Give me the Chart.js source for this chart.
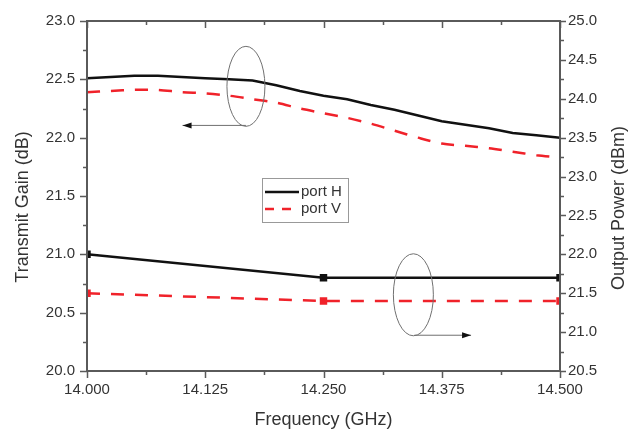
<!DOCTYPE html>
<html>
<head>
<meta charset="utf-8">
<title>Transmit Gain / Output Power</title>
<script src="https://cdn.jsdelivr.net/npm/chart.js@4.4.1/dist/chart.umd.min.js"></script>
<style>
  html, body { margin: 0; padding: 0; background: #fff; }
  canvas { display: block; }
</style>
</head>
<body>
<canvas id="gainChart" width="631" height="429"></canvas>
<script>
// measured transmit gain (left axis, dB)
const freqGain = [14.000, 14.025, 14.050, 14.075, 14.100, 14.125, 14.150, 14.175, 14.200, 14.225,
                  14.250, 14.275, 14.300, 14.325, 14.350, 14.375, 14.400, 14.425, 14.450, 14.475, 14.500];
const gainPortH = [22.51, 22.52, 22.53, 22.53, 22.52, 22.51, 22.50, 22.49, 22.45, 22.40,
                   22.36, 22.33, 22.28, 22.24, 22.19, 22.14, 22.11, 22.08, 22.04, 22.02, 22.00];
const gainPortV = [22.39, 22.40, 22.41, 22.41, 22.39, 22.38, 22.36, 22.33, 22.30, 22.25,
                   22.21, 22.17, 22.12, 22.06, 22.00, 21.95, 21.93, 21.91, 21.88, 21.85, 21.83];

// output power (right axis, dBm)
const freqPower = [14.000, 14.250, 14.500];
const powerPortH = [22.0, 21.7, 21.7];
const powerPortV = [21.5, 21.4, 21.4];

// tick labels
const xTicks = [14.000, 14.125, 14.250, 14.375, 14.500];
const gainTicks = [20.0, 20.5, 21.0, 21.5, 22.0, 22.5, 23.0];
const powerTicks = [20.5, 21.0, 21.5, 22.0, 22.5, 23.0, 23.5, 24.0, 24.5, 25.0];

const FONT = "'Liberation Sans', Arial, sans-serif";
const TEXT_COLOR = '#333';
const FRAME_COLOR = '#5a5a5a';
const BLACK = '#111';
const RED = '#f0222a';
const DASH = [13, 11];

// ellipse + arrow callouts telling which curves belong to which axis
const callouts = [
    { axis: 'yGain', cx: 14.168, cy: 22.44, rx: 19, ry: 40, from: [14.168, 22.105], to: [14.101, 22.105] },
    { axis: 'yPower', cx: 14.345, cy: 21.48, rx: 20, ry: 41, from: [14.346, 20.96], to: [14.406, 20.96] },
];

function pts(xs, ys) {
    return xs.map((x, i) => ({ x, y: ys[i] }));
}

// major ticks plus a minor tick half way between each pair
function withMinor(list) {
    const out = [];
    list.forEach((v, i) => {
        out.push({ v, major: true });
        if (i < list.length - 1) out.push({ v: (v + list[i + 1]) / 2, major: false });
    });
    return out;
}

const axisFrame = {
    id: 'axisFrame',
    afterDatasetsDraw(chart) {
        const { ctx, chartArea: a, scales } = chart;
        const x = scales.x, yl = scales.yGain, yr = scales.yPower;
        ctx.save();

        // frame
        ctx.strokeStyle = FRAME_COLOR;
        ctx.lineWidth = 2;
        ctx.strokeRect(a.left, a.top, a.right - a.left, a.bottom - a.top);

        // tick marks
        ctx.lineWidth = 1.5;
        ctx.beginPath();
        withMinor(xTicks).forEach(t => {
            const px = Math.round(x.getPixelForValue(t.v)) + 0.5;
            const len = t.major ? 7 : 4;
            ctx.moveTo(px, a.bottom); ctx.lineTo(px, a.bottom + len);
            ctx.moveTo(px, a.top); ctx.lineTo(px, a.top + len);
        });
        withMinor(gainTicks).forEach(t => {
            const py = Math.round(yl.getPixelForValue(t.v)) + 0.5;
            ctx.moveTo(a.left, py); ctx.lineTo(a.left - (t.major ? 7 : 4), py);
        });
        withMinor(powerTicks).forEach(t => {
            const py = Math.round(yr.getPixelForValue(t.v)) + 0.5;
            ctx.moveTo(a.right, py); ctx.lineTo(a.right + (t.major ? 6 : 4), py);
        });
        ctx.stroke();

        // callouts
        callouts.forEach(c => {
            const ys = scales[c.axis];
            const cx = x.getPixelForValue(c.cx), cy = ys.getPixelForValue(c.cy);
            ctx.strokeStyle = '#707070';
            ctx.lineWidth = 1;
            ctx.beginPath();
            ctx.ellipse(cx, cy, c.rx, c.ry, 0, 0, Math.PI * 2);
            ctx.stroke();
            const x0 = x.getPixelForValue(c.from[0]), y0 = ys.getPixelForValue(c.from[1]);
            const x1 = x.getPixelForValue(c.to[0]), y1 = ys.getPixelForValue(c.to[1]);
            ctx.beginPath();
            ctx.moveTo(x0, y0); ctx.lineTo(x1, y1);
            ctx.stroke();
            const dir = Math.sign(x1 - x0);
            ctx.fillStyle = '#111';
            ctx.beginPath();
            ctx.moveTo(x1, y1);
            ctx.lineTo(x1 - dir * 9, y1 - 3);
            ctx.lineTo(x1 - dir * 9, y1 + 3);
            ctx.closePath();
            ctx.fill();
        });

        // legend
        const lg = { left: 262, top: 178, w: 86, h: 44 };
        ctx.fillStyle = '#fff';
        ctx.fillRect(lg.left, lg.top, lg.w, lg.h);
        ctx.strokeStyle = '#999';
        ctx.lineWidth = 1;
        ctx.strokeRect(lg.left + 0.5, lg.top + 0.5, lg.w, lg.h);
        ctx.font = '15px ' + FONT;
        ctx.textBaseline = 'middle';
        ctx.textAlign = 'left';
        [0, 1].forEach(i => {
            const ds = chart.data.datasets[i];
            const yy = lg.top + 14 + i * 17;
            ctx.strokeStyle = ds.borderColor;
            ctx.lineWidth = ds.borderWidth;
            ctx.setLineDash(ds.borderDash ? [9, 8] : []);
            ctx.beginPath();
            ctx.moveTo(lg.left + 3, yy); ctx.lineTo(lg.left + 37, yy);
            ctx.stroke();
            ctx.setLineDash([]);
            ctx.fillStyle = TEXT_COLOR;
            ctx.fillText(ds.label, lg.left + 39, yy);
        });

        // axis titles
        ctx.fillStyle = TEXT_COLOR;
        ctx.font = '18px ' + FONT;
        ctx.textAlign = 'center';
        ctx.textBaseline = 'middle';
        ctx.fillText('Frequency (GHz)', (a.left + a.right) / 2, 420);
        ctx.translate(23, 207);
        ctx.rotate(-Math.PI / 2);
        ctx.fillText('Transmit Gain (dB)', 0, 0);
        ctx.setTransform(1, 0, 0, 1, 0, 0);
        ctx.translate(619, 208);
        ctx.rotate(-Math.PI / 2);
        ctx.fillText('Output Power (dBm)', 0, 0);
        ctx.restore();
    }
};

const tickFont = { family: FONT, size: 15 };

new Chart(document.getElementById('gainChart'), {
    type: 'line',
    data: {
        datasets: [
            {
                label: 'port H',
                data: pts(freqGain, gainPortH),
                yAxisID: 'yGain',
                borderColor: BLACK,
                borderWidth: 2.5,
                pointRadius: 0,
                tension: 0,
            },
            {
                label: 'port V',
                data: pts(freqGain, gainPortV),
                yAxisID: 'yGain',
                borderColor: RED,
                borderWidth: 2.5,
                borderDash: DASH,
                pointRadius: 0,
                tension: 0.3,
            },
            {
                label: 'port H power',
                data: pts(freqPower, powerPortH),
                yAxisID: 'yPower',
                borderColor: BLACK,
                borderWidth: 2.5,
                pointStyle: 'rect',
                pointRadius: 3.5,
                pointBackgroundColor: BLACK,
                pointBorderColor: BLACK,
            },
            {
                label: 'port V power',
                data: pts(freqPower, powerPortV),
                yAxisID: 'yPower',
                borderColor: RED,
                borderWidth: 2.5,
                borderDash: DASH,
                pointStyle: 'rect',
                pointRadius: 3.5,
                pointBackgroundColor: RED,
                pointBorderColor: RED,
            },
        ],
    },
    options: {
        responsive: false,
        animation: false,
        devicePixelRatio: 1,
        clip: 0,
        layout: { padding: { top: 19, left: 0, right: 0, bottom: 0 } },
        plugins: {
            legend: { display: false },
            tooltip: { enabled: false },
        },
        scales: {
            x: {
                type: 'linear',
                min: 14.0,
                max: 14.5,
                afterBuildTicks: (s) => { s.ticks = xTicks.map(v => ({ value: v })); },
                afterFit: (s) => { s.height = 58; },
                grid: { display: false, drawTicks: false },
                border: { display: false },
                ticks: {
                    font: tickFont,
                    color: TEXT_COLOR,
                    padding: 10,
                    maxRotation: 0,
                    autoSkip: false,
                    callback: (v) => Number(v).toFixed(3),
                },
            },
            yGain: {
                position: 'left',
                min: 20,
                max: 23,
                afterBuildTicks: (s) => { s.ticks = gainTicks.map(v => ({ value: v })); },
                afterFit: (s) => { s.width = 87; },
                grid: { display: false, drawTicks: false },
                border: { display: false },
                ticks: {
                    font: tickFont,
                    color: TEXT_COLOR,
                    padding: 12,
                    callback: (v) => Number(v).toFixed(1),
                },
            },
            yPower: {
                position: 'right',
                min: 20.5,
                max: 25,
                afterBuildTicks: (s) => { s.ticks = powerTicks.map(v => ({ value: v })); },
                afterFit: (s) => { s.width = 71; },
                grid: { display: false, drawTicks: false },
                border: { display: false },
                ticks: {
                    font: tickFont,
                    color: TEXT_COLOR,
                    padding: 8,
                    callback: (v) => Number(v).toFixed(1),
                },
            },
        },
    },
    plugins: [axisFrame],
});
</script>
</body>
</html>
